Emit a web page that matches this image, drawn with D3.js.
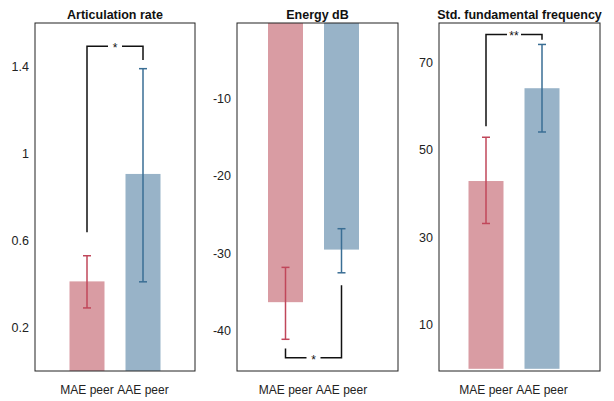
<!DOCTYPE html>
<html>
<head>
<meta charset="utf-8">
<script src="https://cdn.jsdelivr.net/npm/d3@7"></script>
<style>
  body { margin: 0; background: #fff; }
  text { font-family: "Liberation Sans", Arial, sans-serif; }
</style>
</head>
<body>
<div id="chart"></div>
<script>
const groups = ['MAE peer', 'AAE peer'];
const titles = ['Articulation rate', 'Energy dB', 'Std. fundamental frequency'];

// means and error bar ends, per panel
const artMeans = [0.412, 0.906];
const artLow = [0.29, 0.41];
const artHigh = [0.53, 1.39];

const energyMeans = [-36.3, -29.5];
const energyLow = [-41.1, -32.5];
const energyHigh = [-31.8, -26.8];

const f0Means = [42.9, 64.1];
const f0Low = [33.2, 54.1];
const f0High = [52.9, 74.1];

// significance brackets: left end, level, right end, label
const artSig = [0.638, 1.493, 1.43, '*'];
const energySig = [-42.3, -43.5, -34.1, '*'];
const f0Sig = [55.4, 76.4, 75.2, '**'];

const artTicks = [0.2, 0.6, 1, 1.4];
const energyTicks = [-40, -30, -20, -10];
const f0Ticks = [10, 30, 50, 70];

const artDomain = [0, 1.6];
const energyDomain = [-45.2, -0.2];
const f0Domain = [-0.5, 79];

const panels = [
  {title: titles[0], means: artMeans, low: artLow, high: artHigh, sig: artSig,
   ticks: artTicks, domain: artDomain, left: 35, right: 195, offset: 52},
  {title: titles[1], means: energyMeans, low: energyLow, high: energyHigh, sig: energySig,
   ticks: energyTicks, domain: energyDomain, left: 237, right: 398, offset: 48.5},
  {title: titles[2], means: f0Means, low: f0Low, high: f0High, sig: f0Sig,
   ticks: f0Ticks, domain: f0Domain, left: 439, right: 600, offset: 47}
];

const barFill = ['#d99ca3', '#98b3c8'];
const errColor = ['#c0475a', '#3a6e94'];

const plotTop = 23, plotBottom = 371;
const barWidth = 35;

const svg = d3.select('#chart').append('svg')
    .attr('width', 614)
    .attr('height', 401);

panels.forEach(function (p, pi) {
  const y = d3.scaleLinear().domain(p.domain).range([plotBottom, plotTop]);
  const x = d3.scalePoint().domain(groups)
      .range([p.left + p.offset, p.left + p.offset + 56]);

  const g = svg.append('g');

  g.append('clipPath')
      .attr('id', 'clip' + pi)
      .append('rect')
      .attr('x', p.left).attr('y', plotTop)
      .attr('width', p.right - p.left).attr('height', plotBottom - plotTop);

  const inner = g.append('g').attr('clip-path', 'url(#clip' + pi + ')');

  const zero = y(0);
  inner.selectAll('.bar')
      .data(p.means)
      .enter().append('rect')
      .attr('class', 'bar')
      .attr('x', (d, i) => x(groups[i]) - barWidth / 2)
      .attr('width', barWidth)
      .attr('y', d => Math.min(y(d), zero))
      .attr('height', d => Math.abs(y(d) - zero))
      .attr('fill', (d, i) => barFill[i]);

  // error bars
  p.means.forEach(function (m, i) {
    const cx = x(groups[i]);
    const eb = inner.append('g')
        .attr('stroke', errColor[i])
        .attr('stroke-width', 1.5);
    eb.append('line')
        .attr('x1', cx).attr('x2', cx)
        .attr('y1', y(p.low[i])).attr('y2', y(p.high[i]));
    [p.low[i], p.high[i]].forEach(function (v) {
      eb.append('line')
          .attr('x1', cx - 4).attr('x2', cx + 4)
          .attr('y1', y(v)).attr('y2', y(v));
    });
  });

  // significance bracket
  const x1 = x(groups[0]), x2 = x(groups[1]);
  const mid = (x1 + x2) / 2;
  const yl = y(p.sig[1]);
  const br = g.append('g')
      .attr('stroke', '#111')
      .attr('stroke-width', 1.5)
      .attr('fill', 'none');
  br.append('path')
      .attr('d', 'M' + x1 + ',' + y(p.sig[0]) + 'V' + yl + 'H' + (mid - 7));
  br.append('path')
      .attr('d', 'M' + (mid + 7) + ',' + yl + 'H' + x2 + 'V' + y(p.sig[2]));
  g.append('text')
      .attr('x', mid)
      .attr('y', yl + 6)
      .attr('text-anchor', 'middle')
      .attr('font-size', 12)
      .attr('fill', '#111')
      .text(p.sig[3]);

  // frame
  g.append('rect')
      .attr('x', p.left).attr('y', plotTop)
      .attr('width', p.right - p.left).attr('height', plotBottom - plotTop)
      .attr('fill', 'none')
      .attr('stroke', '#222')
      .attr('stroke-width', 1);

  // y tick labels
  g.selectAll('.tick-label')
      .data(p.ticks)
      .enter().append('text')
      .attr('class', 'tick-label')
      .attr('x', p.left - 6)
      .attr('y', d => y(d))
      .attr('dy', '0.35em')
      .attr('text-anchor', 'end')
      .attr('font-size', 12.5)
      .attr('fill', '#222')
      .text(d => d);

  // group labels
  g.selectAll('.group-label')
      .data(groups)
      .enter().append('text')
      .attr('class', 'group-label')
      .attr('x', d => x(d))
      .attr('y', 394)
      .attr('text-anchor', 'middle')
      .attr('font-size', 12)
      .attr('fill', '#222')
      .text(d => d);

  // title
  g.append('text')
      .attr('x', (p.left + p.right) / 2)
      .attr('y', 19)
      .attr('text-anchor', 'middle')
      .attr('font-size', 12.5)
      .attr('font-weight', 'bold')
      .attr('fill', '#111')
      .text(p.title);
});
</script>
</body>
</html>
